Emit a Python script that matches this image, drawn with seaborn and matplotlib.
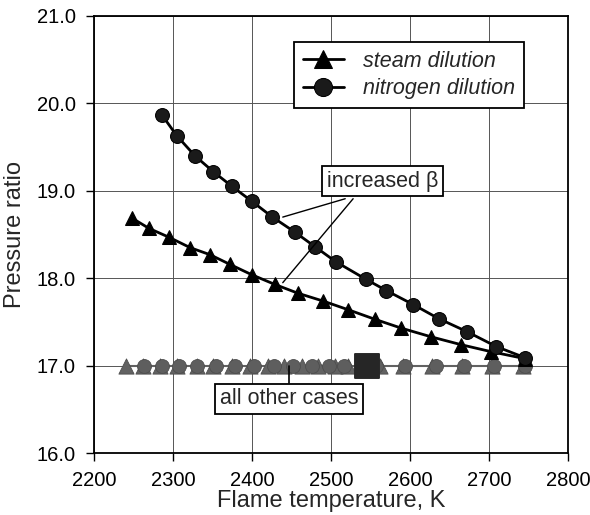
import matplotlib
matplotlib.use("Agg")
import matplotlib.pyplot as plt
import pandas as pd
import seaborn as sns

# nitrogen dilution (circles)
n2_temp = [2286, 2305, 2328, 2351, 2375, 2400, 2426, 2454, 2480, 2506,
           2544, 2570, 2604, 2636, 2672, 2709, 2746]
n2_pr = [19.87, 19.63, 19.40, 19.22, 19.05, 18.88, 18.70, 18.53, 18.36, 18.19,
         17.99, 17.86, 17.70, 17.54, 17.39, 17.22, 17.09]

# steam dilution (triangles)
steam_temp = [2248, 2270, 2295, 2322, 2347, 2372, 2400, 2429, 2458, 2490,
              2522, 2556, 2589, 2627, 2665, 2703, 2746]
steam_pr = [18.69, 18.57, 18.47, 18.35, 18.27, 18.16, 18.04, 17.93, 17.83, 17.74,
            17.64, 17.53, 17.43, 17.33, 17.24, 17.16, 17.08]

# all other cases (grey, constant pressure ratio)
other_tri_temp = [2241, 2262, 2284, 2305, 2330, 2351, 2375, 2398, 2420, 2441,
                  2463, 2484, 2505, 2522, 2562, 2591, 2628, 2666, 2704, 2743]
other_circ_temp = [2264, 2286, 2308, 2331, 2355, 2378, 2403, 2428, 2452, 2476,
                   2498, 2516, 2557, 2594, 2633, 2668, 2706, 2745]
other_pr = 17.0
base_temp = [2545]

sns.set_style("ticks")
plt.rcParams["font.family"] = ["Liberation Sans", "DejaVu Sans"]

fig = plt.figure(figsize=(5.9, 5.15), dpi=100)
ax = fig.add_axes([0.159, 0.120, 0.804, 0.849])

grey = "#626262"
tri_df = pd.DataFrame({"T": other_tri_temp, "P": [other_pr] * len(other_tri_temp)})
circ_df = pd.DataFrame({"T": other_circ_temp, "P": [other_pr] * len(other_circ_temp)})
ax.plot([min(other_tri_temp), max(other_tri_temp)], [other_pr, other_pr],
        color=grey, lw=1.5, zorder=2)
sns.scatterplot(data=tri_df, x="T", y="P", marker="^", s=120, color=grey,
                edgecolor="#4d4d4d", linewidth=0.6, ax=ax, zorder=3)
sns.scatterplot(data=circ_df, x="T", y="P", marker="o", s=100, color="#5e5e5e",
                edgecolor="#4d4d4d", linewidth=0.6, ax=ax, zorder=3)
sns.scatterplot(x=base_temp, y=[other_pr], marker="s", s=300, color="#262626",
                edgecolor="#262626", ax=ax, zorder=4)

sns.lineplot(x=steam_temp, y=steam_pr, color="black", lw=2, marker="^",
             markersize=10, mec="black", mfc="black", ax=ax, zorder=5,
             label="steam dilution")
sns.lineplot(x=n2_temp, y=n2_pr, color="black", lw=2, marker="o",
             markersize=10, mec="black", mfc="#1a1a1a", ax=ax, zorder=5,
             label="nitrogen dilution")

ax.set_xlim(2200, 2800)
ax.set_ylim(16.0, 21.0)
ax.set_xticks(range(2200, 2801, 100))
ax.set_yticks([16, 17, 18, 19, 20, 21])
ax.set_yticklabels([f"{v:.1f}" for v in [16, 17, 18, 19, 20, 21]])
ax.grid(True, color="#555555", lw=0.7)
ax.set_axisbelow(True)
for s in ax.spines.values():
    s.set_color("black")
    s.set_linewidth(1.3)
ax.tick_params(direction="out", length=6, width=1, labelsize=14.5, colors="black",
               pad=7)
ax.set_xlabel("Flame temperature, K", fontsize=17, labelpad=0)
ax.set_ylabel("Pressure ratio", fontsize=17, labelpad=8)

leg = ax.legend(loc="upper right", bbox_to_anchor=(0.907, 0.940), frameon=True,
                fancybox=False, edgecolor="black", framealpha=1,
                prop={"style": "italic", "size": 15.5}, handlelength=1.9,
                borderpad=0.4, labelspacing=0.3, handletextpad=0.9,
                markerscale=1.3, borderaxespad=0)
leg.get_frame().set_linewidth(1.3)

box = dict(boxstyle="square,pad=0.22", fc="white", ec="black", lw=1.3)
ax.text(2565, 19.11, "increased β", ha="center", va="center", fontsize=15.5,
        bbox=box, zorder=7)
ax.plot([2518, 2439], [18.91, 18.70], color="black", lw=1, zorder=6)
ax.plot([2528, 2439], [18.91, 17.95], color="black", lw=1, zorder=6)

ax.text(2447, 16.62, "all other cases", ha="center", va="center", fontsize=15.5,
        bbox=box, zorder=7)
ax.plot([2447, 2447], [16.80, 17.0], color="black", lw=1.2, zorder=6)

fig.savefig("out.png", dpi=100)
